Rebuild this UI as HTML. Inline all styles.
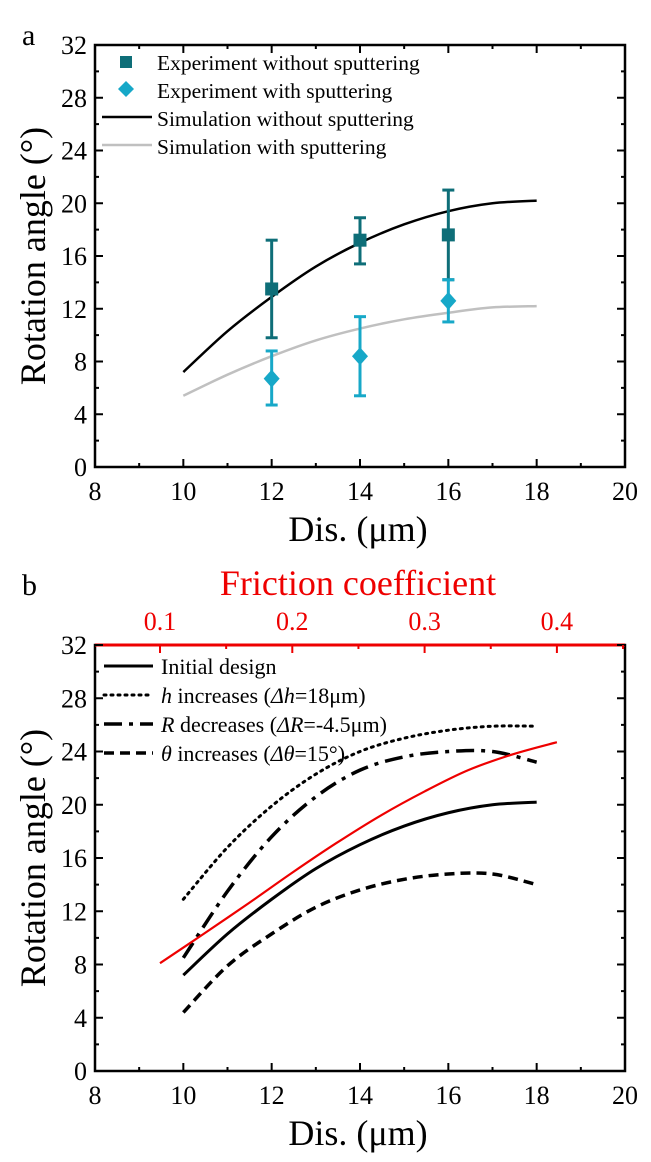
<!DOCTYPE html>
<html><head><meta charset="utf-8"><style>
body{margin:0;background:#fff;width:651px;height:1162px;overflow:hidden}
svg{display:block;font-family:"Liberation Serif",serif}
</style></head><body>
<svg id="s" width="651" height="1162"></svg>
<script>
const xTicks=[8,10,12,14,16,18,20];
const yTicks=[0,4,8,12,16,20,24,28,32];
const simX=[10,11,12,13,14,15,16,17,18];
const simWithout=[7.2,10.3,12.9,15.2,17.0,18.4,19.4,20.0,20.2];
const simWith=[5.4,7.0,8.4,9.6,10.5,11.2,11.7,12.1,12.2];
const expX=[12,14,16];
const expWithout=[13.5,17.2,17.6];
const expWithoutLo=[9.8,15.4,14.2];
const expWithoutHi=[17.2,18.9,21.0];
const expWith=[6.7,8.4,12.6];
const expWithLo=[4.7,5.4,11.0];
const expWithHi=[8.8,11.4,14.2];
const hInc=[12.9,16.8,19.9,22.3,24.0,25.0,25.6,25.9,25.9];
const rDec=[8.5,13.5,17.6,20.6,22.6,23.6,24.0,24.0,23.2];
const thInc=[4.4,7.9,10.3,12.3,13.6,14.4,14.8,14.8,14.0];
const fricTicks=[0.1,0.2,0.3,0.4];
const fricX=[0.1,0.133,0.167,0.2,0.233,0.267,0.3,0.333,0.367,0.4];
const fricY=[8.1,10.3,12.6,14.9,17.1,19.2,21.0,22.6,23.8,24.7];

const NS="http://www.w3.org/2000/svg";
const svg=document.getElementById('s');
function mk(tag,attrs,parent,text){const e=document.createElementNS(NS,tag);for(const k in attrs)e.setAttribute(k,attrs[k]);if(text!==undefined)e.textContent=text;(parent||svg).appendChild(e);return e;}
const L=95,R=625;
const sx=v=>L+(v-8)*(R-L)/12;
const fx=f=>160+(f-0.1)*1323;
function smooth(pts){let d=`M${pts[0][0]},${pts[0][1]}`;for(let i=0;i<pts.length-1;i++){const p0=pts[i-1]||pts[i],p1=pts[i],p2=pts[i+1],p3=pts[i+2]||p2;d+=` C${p1[0]+(p2[0]-p0[0])/6},${p1[1]+(p2[1]-p0[1])/6} ${p2[0]-(p3[0]-p1[0])/6},${p2[1]-(p3[1]-p1[1])/6} ${p2[0]},${p2[1]}`;}return d;}

function axes(T,B,g,topRed){
  const sy=v=>B-v*(B-T)/32;
  mk('rect',{x:L,y:T,width:R-L,height:B-T,fill:'none',stroke:'#000','stroke-width':2.5},g);
  if(topRed){const e=mk('line',{x1:L,y1:T,x2:R,y2:T,stroke:'#e00','stroke-width':3},g);}
  for(let v=8;v<=20;v++){const x=sx(v),len=v%2==0?8:4;
    mk('line',{x1:x,y1:B,x2:x,y2:B-len,stroke:'#000','stroke-width':2},g);
    if(!topRed)mk('line',{x1:x,y1:T,x2:x,y2:T+len,stroke:'#000','stroke-width':2},g);}
  xTicks.forEach(v=>{const t=mk('text',{x:sx(v),y:B+33,'font-size':26,'text-anchor':'middle'},g,v);});
  for(let v=0;v<=32;v+=2){const y=sy(v),len=v%4==0?8:4;
    mk('line',{x1:L,y1:y,x2:L+len,y2:y,stroke:'#000','stroke-width':2},g);
    mk('line',{x1:R,y1:y,x2:R-len,y2:y,stroke:'#000','stroke-width':2},g);}
  yTicks.forEach(v=>{const t=mk('text',{x:L-8,y:sy(v)+9,'font-size':26,'text-anchor':'end'},g,v);});
  const xt=mk('text',{x:358,y:B+74,'font-size':36,'text-anchor':'middle'},g,'Dis. (μm)');
  const yt=mk('text',{x:0,y:0,'font-size':36,'text-anchor':'middle',transform:`translate(45,${(T+B)/2}) rotate(-90)`},g,'Rotation angle (°)');
  return sy;
}
function line(xs,ys,sy,g,attrs,name){const p=mk('path',Object.assign({d:smooth(xs.map((x,i)=>[sx(x),sy(ys[i])])),fill:'none'},attrs),g);return p;}

// Panel a
const ga=mk('g',{});
const la=mk('text',{x:22,y:45,'font-size':30},ga,'a');
const sya=axes(45,467,ga,false);
line(simX,simWithout,sya,ga,{stroke:'#000','stroke-width':2.5},'sim-without-line');
line(simX,simWith,sya,ga,{stroke:'#c0c0c0','stroke-width':2.5},'sim-with-line');
function errs(vals,lo,hi,color,shape,name){expX.forEach((x,i)=>{const g=mk('g',{},ga);
  const X=sx(x);mk('line',{x1:X,y1:sya(lo[i]),x2:X,y2:sya(hi[i]),stroke:color,'stroke-width':3},g);
  [lo[i],hi[i]].forEach(v=>mk('line',{x1:X-6,y1:sya(v),x2:X+6,y2:sya(v),stroke:color,'stroke-width':3},g));
  const Y=sya(vals[i]);
  if(shape=='sq')mk('rect',{x:X-6.5,y:Y-6.5,width:13,height:13,fill:color},g);
  else mk('polygon',{points:`${X},${Y-9} ${X+8},${Y} ${X},${Y+9} ${X-8},${Y}`,fill:color},g);});}
errs(expWithout,expWithoutLo,expWithoutHi,'#0e6e78','sq','exp-without-point');
errs(expWith,expWithLo,expWithHi,'#17a8c8','dia','exp-with-point');
const lgA=mk('g',{});
mk('rect',{x:120,y:56,width:12,height:12,fill:'#0e6e78'},lgA);
mk('polygon',{points:'126,81 134,89 126,97 118,89',fill:'#17a8c8'},lgA);
mk('line',{x1:102,y1:117,x2:152,y2:117,stroke:'#000','stroke-width':2.5},lgA);
mk('line',{x1:102,y1:145,x2:152,y2:145,stroke:'#c0c0c0','stroke-width':2.5},lgA);
['Experiment without sputtering','Experiment with sputtering','Simulation without sputtering','Simulation with sputtering'].forEach((t,i)=>{const e=mk('text',{x:157,y:70+i*28,'font-size':21.5},lgA,t);});

// Panel b
const gb=mk('g',{});
const lb=mk('text',{x:22,y:595,'font-size':30},gb,'b');
const syb=axes(645,1071,gb,true);
const ft=mk('text',{x:358,y:595,'font-size':36,fill:'#e00','text-anchor':'middle'},gb,'Friction coefficient');
fricTicks.forEach(f=>{mk('line',{x1:fx(f),y1:645,x2:fx(f),y2:653,stroke:'#e00','stroke-width':2},gb);
  const t=mk('text',{x:fx(f),y:630,'font-size':26,fill:'#e00','text-anchor':'middle'},gb,f);});
for(let f=0.15;f<0.45;f+=0.1)mk('line',{x1:fx(f),y1:645,x2:fx(f),y2:649,stroke:'#e00','stroke-width':2},gb);
line(simX,hInc,syb,gb,{stroke:'#000','stroke-width':3,'stroke-dasharray':'2 5','stroke-linecap':'round'},'h-increases-line');
line(simX,rDec,syb,gb,{stroke:'#000','stroke-width':3.5,'stroke-dasharray':'18 7 4 7'},'r-decreases-line');
line(simX,thInc,syb,gb,{stroke:'#000','stroke-width':3.5,'stroke-dasharray':'10 6'},'theta-increases-line');
line(simX,simWithout,syb,gb,{stroke:'#000','stroke-width':3},'initial-design-line');
const rp=mk('path',{d:smooth(fricX.map((f,i)=>[fx(f),syb(fricY[i])])),fill:'none',stroke:'#e00','stroke-width':2.2},gb);
const lgB=mk('g',{});
mk('line',{x1:104,y1:666,x2:153,y2:666,stroke:'#000','stroke-width':3},lgB);
mk('line',{x1:104,y1:695,x2:153,y2:695,stroke:'#000','stroke-width':3,'stroke-dasharray':'2 5','stroke-linecap':'round'},lgB);
mk('line',{x1:104,y1:724,x2:153,y2:724,stroke:'#000','stroke-width':3.5,'stroke-dasharray':'18 7 4 7'},lgB);
mk('line',{x1:104,y1:753,x2:153,y2:753,stroke:'#000','stroke-width':3.5,'stroke-dasharray':'10 6'},lgB);
const lt=[['','Initial design'],['h',' increases (',"Δh",'=18μm)'],['R',' decreases (','ΔR','=-4.5μm)'],['θ',' increases (','Δθ','=15°)']];
lt.forEach((p,i)=>{const e=mk('text',{x:161,y:674+i*29,'font-size':22},lgB);
  if(i==0){e.textContent=p[1];return;}
  mk('tspan',{'font-style':'italic'},e,p[0]);mk('tspan',{},e,p[1]);mk('tspan',{'font-style':'italic'},e,p[2]);mk('tspan',{},e,p[3]);});
</script>
</body></html>
